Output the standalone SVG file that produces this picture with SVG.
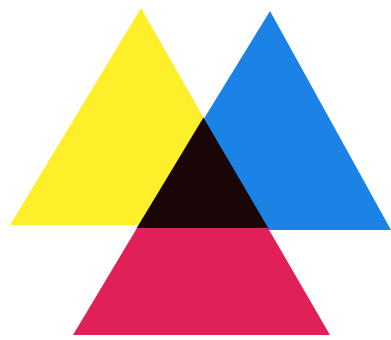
<svg xmlns="http://www.w3.org/2000/svg" width="391" height="340" viewBox="0 0 391 340">
  <rect width="391" height="340" fill="#ffffff"/>
  <g id="yellow"><polygon points="141,8 10,225 265,225" fill="#fdf02a"/></g>
  <g id="blue"><polygon points="270,11 136.5,228.5 268,228.5 268,230 391,230" fill="#1b83e6"/></g>
  <g id="black"><polygon points="203.4,117.5 136.5,228.5 268.5,228.5" fill="#1a0507"/></g>
  <g id="magenta"><polygon points="137,228 268,228 330,335 73,335" fill="#df2157"/></g>
</svg>
